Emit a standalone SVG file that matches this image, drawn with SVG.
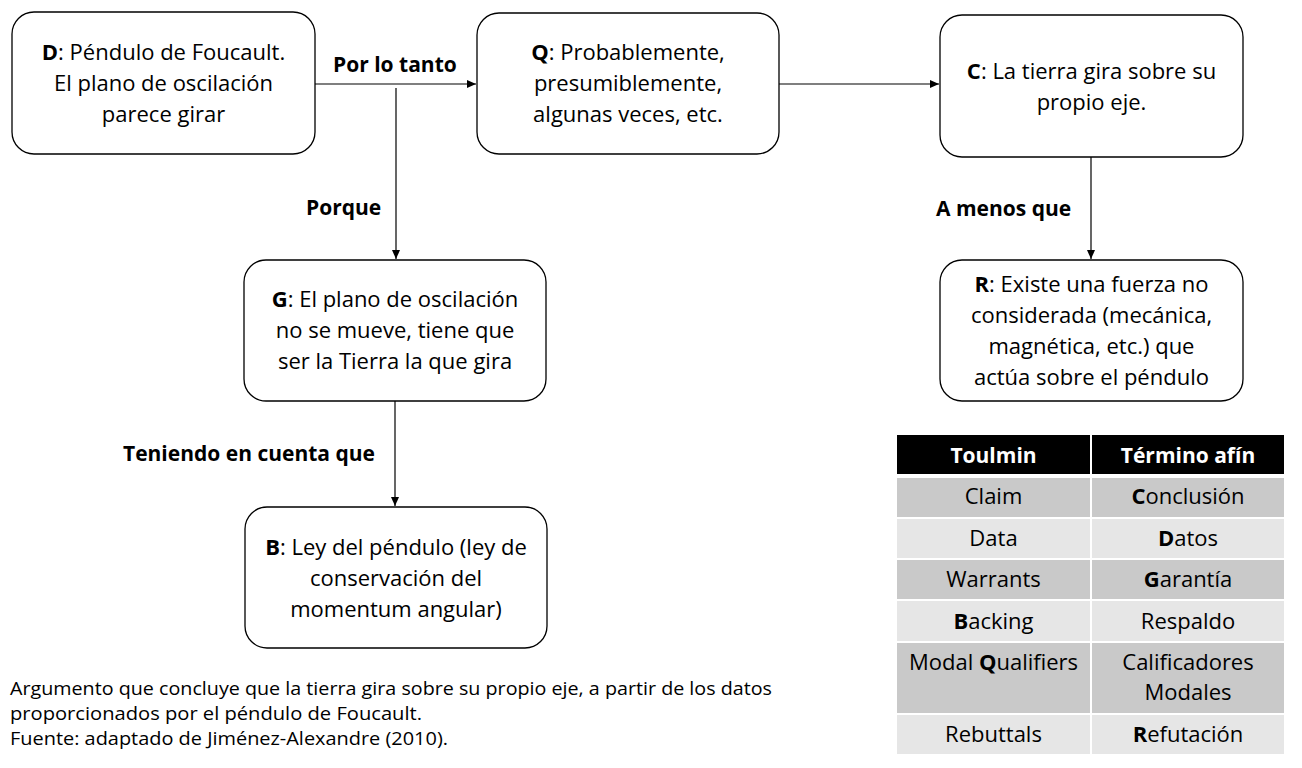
<svg xmlns="http://www.w3.org/2000/svg" width="1302" height="768" viewBox="0 0 1302 768">
<style>
.node{fill:#fff;stroke:#000;stroke-width:1.3}
.t{font-family:"Open Sans","Liberation Sans",sans-serif;font-size:22px;fill:#000;text-anchor:middle}
.lbl{font-family:"Open Sans","Liberation Sans",sans-serif;font-size:21px;font-weight:bold;fill:#000}
.conn{stroke:#000;stroke-width:1.2;fill:none}
.tb{font-family:"Open Sans","Liberation Sans",sans-serif;font-size:22px;fill:#000;text-anchor:middle}
.th{font-family:"Open Sans","Liberation Sans",sans-serif;font-size:21px;font-weight:bold;fill:#fff;text-anchor:middle}
.cap{font-family:"Open Sans","Liberation Sans",sans-serif;font-size:18px;fill:#000}
.dark{fill:#c9c9c9}
.light{fill:#e6e6e6}
.b{font-weight:bold}
</style>
<defs>
<marker id="arr" markerWidth="10" markerHeight="8" refX="9" refY="4" orient="auto" markerUnits="userSpaceOnUse">
<path d="M0,0 L9,4 L0,8 z" fill="#000"/>
</marker>
</defs>
<rect width="1302" height="768" fill="#fff"/>

<g id="connectors">
<line class="conn" x1="315" y1="84" x2="476" y2="84" marker-end="url(#arr)"/>
<line class="conn" x1="396" y1="88" x2="396" y2="259" marker-end="url(#arr)"/>
<line class="conn" x1="779" y1="84" x2="939" y2="84" marker-end="url(#arr)"/>
<line class="conn" x1="1091" y1="157" x2="1091" y2="259" marker-end="url(#arr)"/>
<line class="conn" x1="395" y1="401" x2="395" y2="506" marker-end="url(#arr)"/>
<text class="lbl" x="333" y="72">Por lo tanto</text>
<text class="lbl" x="306" y="215">Porque</text>
<text class="lbl" x="936" y="216">A menos que</text>
<text class="lbl" x="123" y="461">Teniendo en cuenta que</text>
</g>

<g id="node-D">
<rect class="node" x="12" y="12" width="303" height="142" rx="22"/>
<text class="t" x="163.5" y="60"><tspan class="b">D</tspan>: Péndulo de Foucault.</text>
<text class="t" x="163.5" y="91">El plano de oscilación</text>
<text class="t" x="163.5" y="122">parece girar</text>
</g>

<g id="node-Q">
<rect class="node" x="477" y="13" width="302" height="141" rx="22"/>
<text class="t" x="628" y="60"><tspan class="b">Q</tspan>: Probablemente,</text>
<text class="t" x="628" y="91">presumiblemente,</text>
<text class="t" x="628" y="122">algunas veces, etc.</text>
</g>

<g id="node-C">
<rect class="node" x="940" y="15" width="303" height="142" rx="22"/>
<text class="t" x="1091.5" y="79"><tspan class="b">C</tspan>: La tierra gira sobre su</text>
<text class="t" x="1091.5" y="110">propio eje.</text>
</g>

<g id="node-G">
<rect class="node" x="244" y="260" width="302" height="141" rx="22"/>
<text class="t" x="395" y="307"><tspan class="b">G</tspan>: El plano de oscilación</text>
<text class="t" x="395" y="338">no se mueve, tiene que</text>
<text class="t" x="395" y="369">ser la Tierra la que gira</text>
</g>

<g id="node-R">
<rect class="node" x="940" y="260" width="303" height="141" rx="22"/>
<text class="t" x="1091.5" y="292"><tspan class="b">R</tspan>: Existe una fuerza no</text>
<text class="t" x="1091.5" y="323">considerada (mecánica,</text>
<text class="t" x="1091.5" y="354">magnética, etc.) que</text>
<text class="t" x="1091.5" y="385">actúa sobre el péndulo</text>
</g>

<g id="node-B">
<rect class="node" x="245" y="507" width="302" height="141" rx="22"/>
<text class="t" x="396" y="555"><tspan class="b">B</tspan>: Ley del péndulo (ley de</text>
<text class="t" x="396" y="586">conservación del</text>
<text class="t" x="396" y="617">momentum angular)</text>
</g>

<g id="caption">
<text class="cap" x="10" y="695" textLength="762" lengthAdjust="spacingAndGlyphs">Argumento que concluye que la tierra gira sobre su propio eje, a partir de los datos</text>
<text class="cap" x="10" y="720" textLength="412" lengthAdjust="spacingAndGlyphs">proporcionados por el péndulo de Foucault.</text>
<text class="cap" x="10" y="745" textLength="438" lengthAdjust="spacingAndGlyphs">Fuente: adaptado de Jiménez-Alexandre (2010).</text>
</g>

<g id="table">
<rect x="897" y="435" width="193" height="39" fill="#000"/>
<rect x="1092" y="435" width="192" height="39" fill="#000"/>
<rect class="dark" x="897" y="478" width="193" height="39"/>
<rect class="dark" x="1092" y="478" width="192" height="39"/>
<rect class="light" x="897" y="519" width="193" height="39"/>
<rect class="light" x="1092" y="519" width="192" height="39"/>
<rect class="dark" x="897" y="560" width="193" height="39"/>
<rect class="dark" x="1092" y="560" width="192" height="39"/>
<rect class="light" x="897" y="601" width="193" height="40"/>
<rect class="light" x="1092" y="601" width="192" height="40"/>
<rect class="dark" x="897" y="643" width="193" height="70"/>
<rect class="dark" x="1092" y="643" width="192" height="70"/>
<rect class="light" x="897" y="715" width="193" height="39"/>
<rect class="light" x="1092" y="715" width="192" height="39"/>
<text class="th" x="993.5" y="463">Toulmin</text>
<text class="th" x="1188" y="463">Término afín</text>
<text class="tb" x="993.5" y="504">Claim</text>
<text class="tb" x="1188" y="504"><tspan class="b">C</tspan>onclusión</text>
<text class="tb" x="993.5" y="546">Data</text>
<text class="tb" x="1188" y="546"><tspan class="b">D</tspan>atos</text>
<text class="tb" x="993.5" y="587">Warrants</text>
<text class="tb" x="1188" y="587"><tspan class="b">G</tspan>arantía</text>
<text class="tb" x="993.5" y="629"><tspan class="b">B</tspan>acking</text>
<text class="tb" x="1188" y="629">Respaldo</text>
<text class="tb" x="993.5" y="670">Modal <tspan class="b">Q</tspan>ualifiers</text>
<text class="tb" x="1188" y="670">Calificadores</text>
<text class="tb" x="1188" y="700">Modales</text>
<text class="tb" x="993.5" y="742">Rebuttals</text>
<text class="tb" x="1188" y="742"><tspan class="b">R</tspan>efutación</text>
</g>
</svg>
